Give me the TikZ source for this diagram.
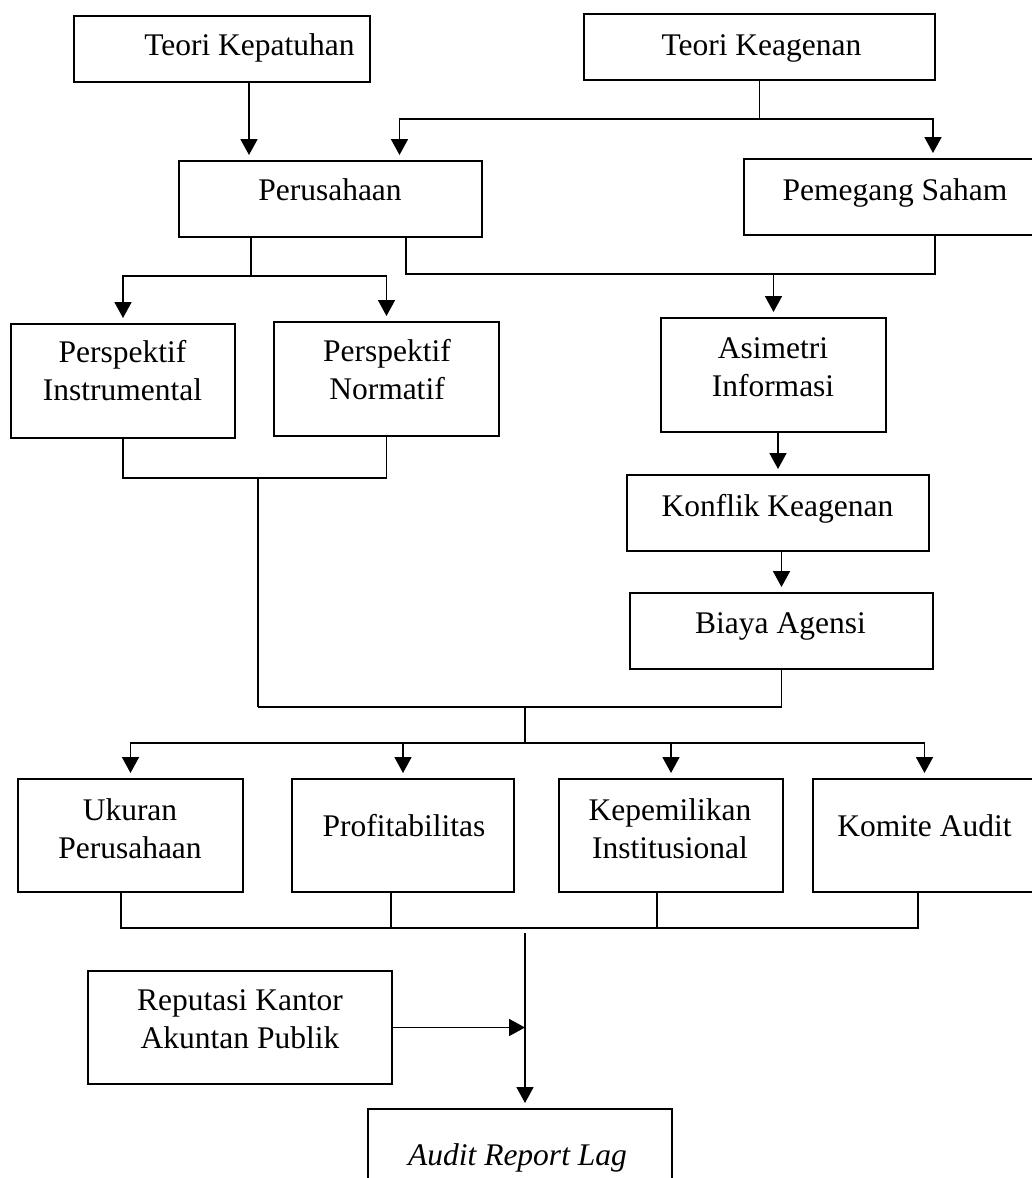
\documentclass[tikz,border=0pt]{standalone}
\usepackage{fontspec}
\setmainfont{Liberation Serif}
\usetikzlibrary{arrows.meta}
\tikzset{
  kotakbox/.style={draw=black, line width=2pt, inner sep=0pt}
}
\newcommand{\kotak}[8]{%
  \pgfmathsetmacro{\kotaklebar}{#4-#2}%
  \pgfmathsetmacro{\kotaktinggi}{#5-#3}%
  \node[kotakbox, minimum width=\kotaklebar pt, minimum height=\kotaktinggi pt]
    (#1) at ({(#2+#4)/2},{(#3+#5)/2}) {};
  \node[kotakteks, text width=\kotaklebar pt] (#1-teks) at (#6,#7) {#8};%
}

\begin{document}
\begin{tikzpicture}[x=1pt,y=-1pt]

  % --- styles ---
  \tikzset{
    kotakteks/.style={anchor=base, align=flush center, inner sep=0pt,
      font=\fontsize{31.5}{38}\selectfont},
    garis/.style={draw=black, line width=1.8pt},
    panah/.style={garis, -{Triangle[length=16pt,width=17pt]}, shorten >=5pt},
  }

  \useasboundingbox (0,0) rectangle (1032,1178);
  \clip (0,0) rectangle (1032,1178);

  % =========================
  %  BOXES
  % =========================

  \kotak{kepatuhan}{74}{16}{370}{82}{249.5}{55}{Teori Kepatuhan}
  \kotak{keagenan}{584}{14}{935}{80}{761.5}{55}{Teori Keagenan}
  \kotak{perusahaan}{179}{161}{482}{237}{330}{200}{Perusahaan}
  \kotak{saham}{744}{159}{1046}{235}{895}{200}{Pemegang Saham}
  \kotak{instr}{11}{324}{235}{438}{122.5}{362}{Perspektif\\Instrumental}
  \kotak{normatif}{274}{322}{499}{436}{387}{361}{Perspektif\\Normatif}
  \kotak{asimetri}{661}{318}{886}{432}{773}{358}{Asimetri\\Informasi}
  \kotak{konflik}{627}{475}{929}{551}{777.5}{516}{Konflik Keagenan}
  \kotak{biaya}{630}{593}{933}{669}{780.5}{633}{Biaya Agensi}
  \kotak{ukuran}{18}{779}{243}{892}{130}{820}{Ukuran\\Perusahaan}
  \kotak{profit}{292}{779}{514}{892}{404}{836}{Profitabilitas}
  \kotak{kepemilikan}{559}{779}{783}{892}{670}{820}{Kepemilikan\\Institusional}
  \kotak{komite}{813}{779}{1036}{892}{924.5}{836}{Komite Audit}
  \kotak{reputasi}{88}{971}{392}{1084}{240}{1010}{Reputasi Kantor\\Akuntan Publik}
  \kotak{arl}{368}{1109}{672}{1230}{517.5}{1165}{\textit{Audit Report Lag}}

  % =========================
  %  CONNECTORS
  % =========================

  % teori
  \coordinate (c1) at ([xshift=27pt]kepatuhan.south);
  \draw[panah] (c1) -- (c1 |- perusahaan.north);
  \draw[garis] (keagenan.south) -- ++(0,38) coordinate (c2);
  \draw[panah] (c2) -| ([xshift=69pt]perusahaan.north);
  \draw[panah] (c2) -| ([xshift=38pt]saham.north);

  % perusahaan & pemegang saham
  \draw[garis] ([xshift=-79.5pt]perusahaan.south) -- ++(0,38) coordinate (c3);
  \draw[panah] (c3) -| (instr.north);
  \draw[panah] (c3) -| (normatif.north);
  \draw[garis] ([xshift=75.5pt]perusahaan.south) -- ++(0,36) coordinate (c4)
    -| ([xshift=40pt]saham.south);
  \draw[panah] (c4 -| asimetri.north) -- (asimetri.north);

  % jalur keagenan
  \draw[panah] (konflik.north |- asimetri.south) -- (konflik.north);
  \draw[panah] (biaya.north |- konflik.south) -- (biaya.north);

  % gabung
  \draw[garis] (instr.south) -- ++(0,39) coordinate (c5) -| (normatif.south);
  \draw[garis] ([xshift=135pt]c5) -- ++(0,229) coordinate (c6);
  \draw[garis] (biaya.south) -- (biaya.south |- c6) -- (c6);
  \draw[garis] ([xshift=267pt]c6) -- ++(0,36) coordinate (c7);
  \foreach \n in {ukuran, profit, kepemilikan, komite}
    \draw[panah] (c7) -| (\n.north);

  % variabel -> audit report lag
  \draw[garis] ([xshift=-9.5pt]ukuran.south) -- ++(0,35) coordinate (c8)
    -| ([xshift=-6.5pt]komite.south);
  \foreach \n/\dx in {profit/-12, kepemilikan/-14} {
    \coordinate (b) at ([xshift=\dx pt]\n.south);
    \draw[garis] (b) -- (b |- c8);
  }
  \coordinate (c9) at (c7 |- c8);
  \draw[panah] ([yshift=-5pt]c9) -- (c9 |- arl.north);
  \draw[panah, shorten >=0pt] (reputasi.east) -- (reputasi.east -| c9);

\end{tikzpicture}
\end{document}
